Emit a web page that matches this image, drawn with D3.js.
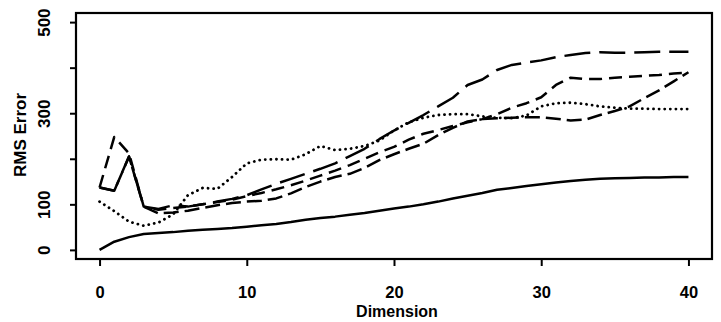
<!DOCTYPE html>
<html><head><meta charset="utf-8">
<script src="https://cdn.jsdelivr.net/npm/d3@7"></script>
<style>body{margin:0;background:#fff}svg{display:block}text{fill:#000}</style>
</head><body><svg id="c" width="721" height="322"></svg>
<script>
const dims = d3.range(0, 41);
const solidVals = [0,18,28,35,37,39,42,44,46,48,51,54,57,61,66,70,73,77,81,86,91,95,100,106,113,119,125,132,136,140,144,148,151,154,156,157,158,159,159,160,160];
const longdashVals = [137,130,205,95,90,98,95,100,106,112,120,133,145,156,167,178,190,206,222,243,262,279,296,315,334,362,374,395,406,411,416,423,428,432,434,433,433,434,435,435,435];
const dashedVals = [137,248,212,95,88,92,95,100,105,110,118,125,133,142,152,163,174,186,200,214,226,242,255,263,272,280,287,298,312,322,335,362,378,375,375,378,380,382,384,387,389];
const dipVals = [137,130,205,95,80,82,86,92,98,103,106,108,113,124,138,150,160,167,180,197,210,222,233,252,268,282,287,289,290,291,291,288,284,286,296,305,315,333,350,370,390];
const dottedVals = [106,85,62,53,60,78,120,136,134,160,190,198,199,198,210,228,219,222,228,240,262,280,290,296,298,298,293,290,289,295,315,322,323,320,315,312,310,310,309,309,309];
const xTicks = [0,10,20,30,40];
const yTicks = [0,100,200,300,400,500];
const yTickLabels = ["0","100","","300","","500"];

const svg = d3.select("#c");
const x = d3.scaleLinear().domain([-1.6, 41.6]).range([76, 712]);
const y = d3.scaleLinear().domain([-20, 520]).range([259, 13]);

const series = [
  {v: solidVals, dash: null, w: 2.5, cap: "butt"},
  {v: longdashVals, dash: "26,9", w: 2.5, cap: "butt"},
  {v: dashedVals, dash: "13,7", w: 2.5, cap: "butt"},
  {v: dipVals, dash: "15,6", w: 2.5, cap: "butt"},
  {v: dottedVals, dash: "0.1,5.5", w: 2.8, cap: "round"}
];
const line = d3.line().x((d,i)=>x(dims[i])).y(d=>y(d));
series.forEach(s=>{
  svg.append("path").datum(s.v).attr("d", line)
    .attr("fill","none").attr("stroke","#000").attr("stroke-width", s.w)
    .attr("stroke-linejoin","round").attr("stroke-linecap", s.cap)
    .attr("stroke-dasharray", s.dash);
});

// box
svg.append("rect").attr("x",76).attr("y",13).attr("width",636).attr("height",246)
  .attr("fill","none").attr("stroke","#000").attr("stroke-width",2.2);

const font = "'Liberation Sans', Arial, Helvetica, sans-serif";
// x axis
const xa = svg.append("g").attr("transform","translate(0,259)")
  .call(d3.axisBottom(x).tickValues(xTicks).tickSize(7).tickPadding(20).tickFormat(d3.format("d")));
xa.select(".domain").remove();
xa.selectAll("line").attr("stroke-width",2);
xa.selectAll("text").attr("fill","#000").attr("font-family",font).attr("font-weight","bold").attr("font-size",16.5);

// y axis
const ya = svg.append("g").attr("transform","translate(76,0)")
  .call(d3.axisLeft(y).tickValues(yTicks).tickSize(6).tickFormat((d,i)=>yTickLabels[i]));
ya.select(".domain").remove();
ya.selectAll("line").attr("stroke-width",2);
ya.selectAll("text").attr("fill","#000").attr("font-family",font).attr("font-weight","bold").attr("font-size",17)
  .attr("x",0).attr("dy",0).attr("text-anchor","middle")
  .attr("transform","translate(-26.5,0) rotate(-90)");

svg.append("text").attr("transform","translate(26,135) rotate(-90)")
  .attr("text-anchor","middle").attr("font-family",font).attr("font-weight","bold")
  .attr("fill","#000").attr("font-size",17).text("RMS Error");
svg.append("text").attr("x",397).attr("y",317).attr("text-anchor","middle")
  .attr("font-family",font).attr("font-weight","bold").attr("font-size",16)
  .attr("fill","#000").text("Dimension");
</script></body></html>
